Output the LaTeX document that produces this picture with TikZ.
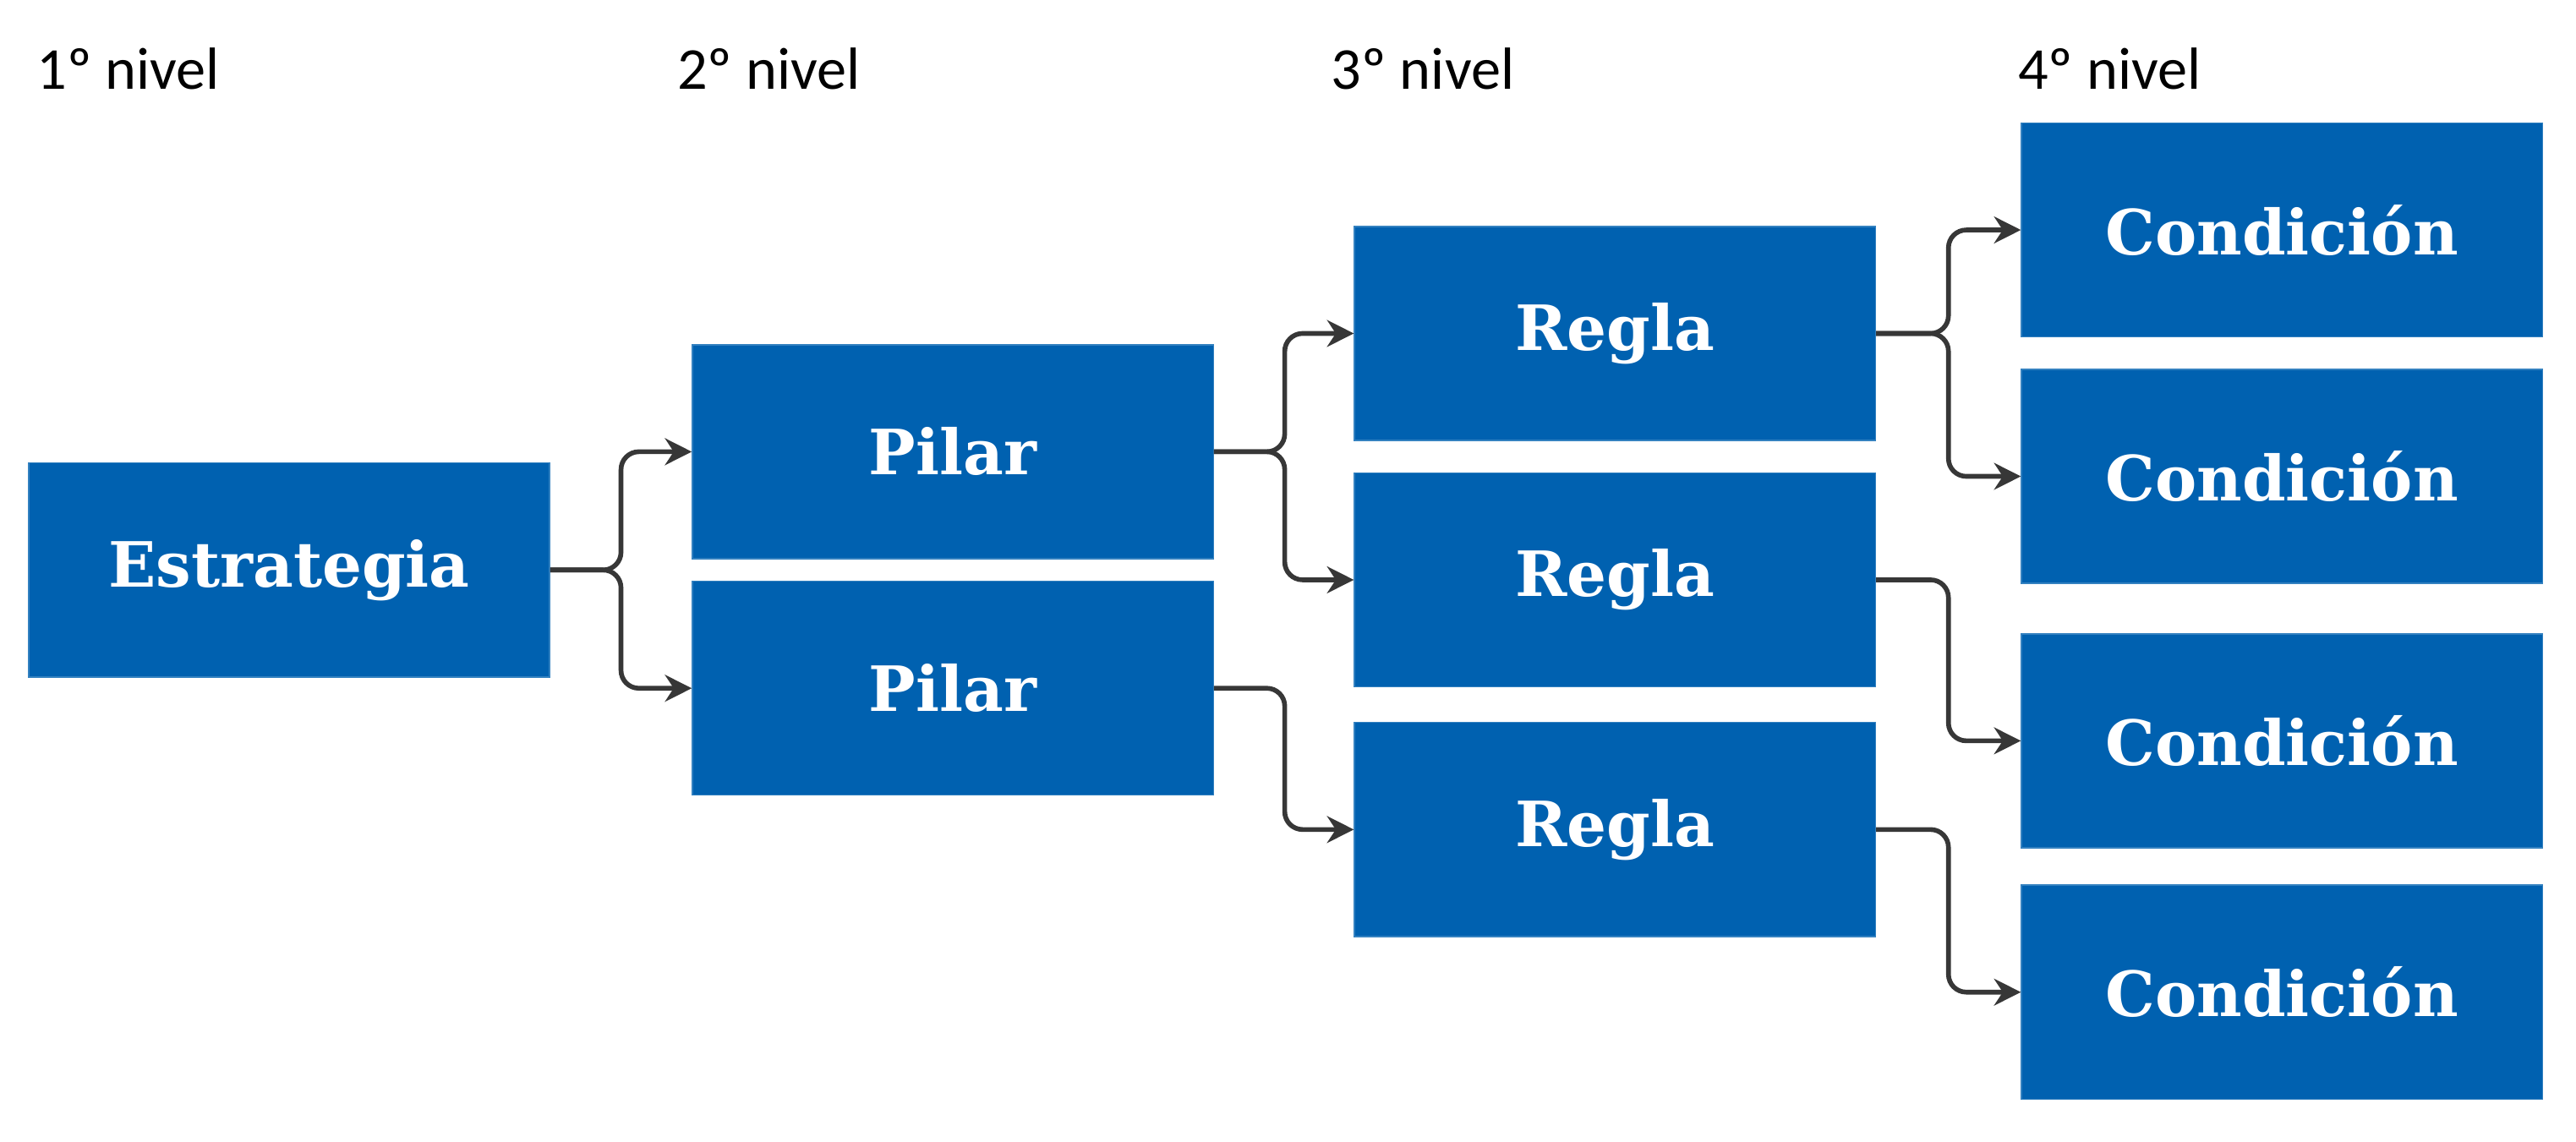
\documentclass[tikz,border=0pt]{standalone}
\usepackage{fontspec}
\setmainfont{Carlito}
\newfontfamily\boxfont{DejaVu Serif}
\usetikzlibrary{positioning,arrows.meta,calc}
\definecolor{boxblue}{RGB}{0,97,176}
\definecolor{linegray}{RGB}{55,55,55}
\tikzset{
    % level boxes
    levelbox/.style={
        rectangle, fill=boxblue, draw=boxblue!80, thin,
        minimum width=6.16cm, minimum height=2.53cm,
        text=white, font=\boxfont\bfseries\fontsize{21}{24}\selectfont
    },
    levellabel/.style={
        anchor=west, inner sep=0pt, font=\fontsize{20}{24}\selectfont
    },
    conn/.style={
        -{Stealth[length=9pt,width=9pt]}, line width=1.6pt, color=linegray,
        rounded corners=6pt
    }
}
\begin{document}
\begin{tikzpicture}[x=0.01943cm,y=-0.01943cm]
\useasboundingbox (0,0) rectangle (1568,695);

% level titles
\node[levellabel] (lv1) at (22,42) {1º nivel};
\node[levellabel] (lv2) at (412,42) {2º nivel};
\node[levellabel] (lv3) at (810,42) {3º nivel};
\node[levellabel] (lv4) at (1228,42) {4º nivel};

% boxes
\node[levelbox] (est) at (176,347) {Estrategia};
\node[levelbox] (pil1) at (580,275) {Pilar};
\node[levelbox] (pil2) at (580,419) {Pilar};
\node[levelbox] (reg1) at (983,203) {Regla};
\node[levelbox] (reg2) at (983,353) {Regla};
\node[levelbox] (reg3) at (983,505) {Regla};
\node[levelbox] (cond1) at (1389,140) {Condición};
\node[levelbox] (cond2) at (1389,290) {Condición};
\node[levelbox] (cond3) at (1389,451) {Condición};
\node[levelbox] (cond4) at (1389,604) {Condición};

% junction columns
\coordinate (j1) at (378,0);
\coordinate (j2) at (782,0);
\coordinate (j3) at (1186,0);

% connectors
\draw[conn] (est.east) -- (j1 |- est.east) |- (pil1.west);
\draw[conn] (est.east) -- (j1 |- est.east) |- (pil2.west);
\draw[conn] (pil1.east) -- (j2 |- pil1.east) |- (reg1.west);
\draw[conn] (pil1.east) -- (j2 |- pil1.east) |- (reg2.west);
\draw[conn] (pil2.east) -- (j2 |- pil2.east) |- (reg3.west);
\draw[conn] (reg1.east) -- (j3 |- reg1.east) |- (cond1.west);
\draw[conn] (reg1.east) -- (j3 |- reg1.east) |- (cond2.west);
\draw[conn] (reg2.east) -- (j3 |- reg2.east) |- (cond3.west);
\draw[conn] (reg3.east) -- (j3 |- reg3.east) |- (cond4.west);

\end{tikzpicture}
\end{document}
